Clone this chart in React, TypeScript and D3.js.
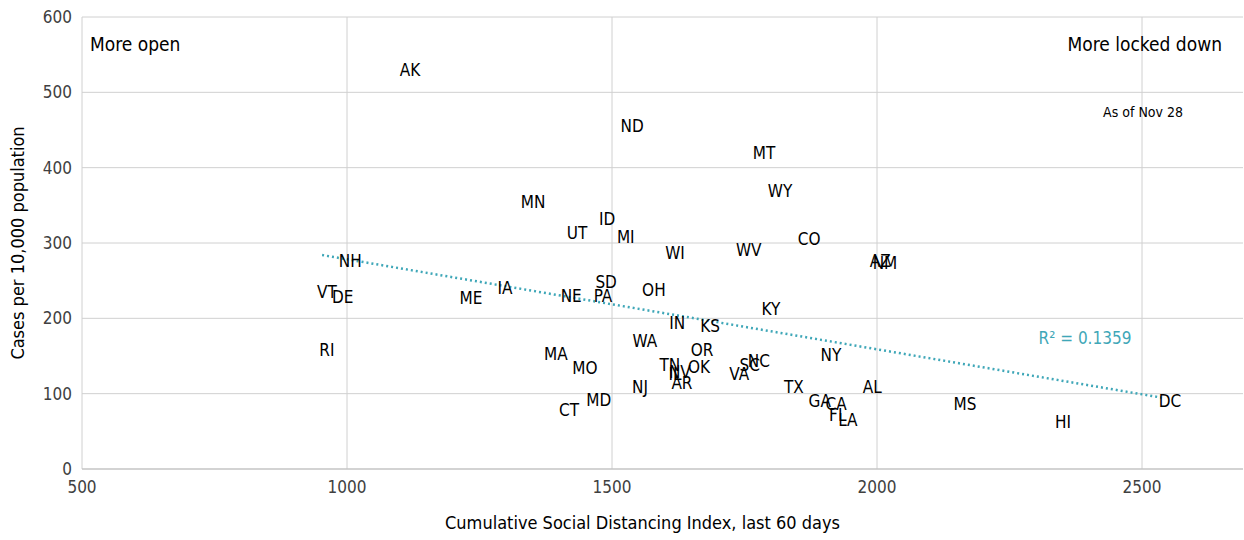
import { scaleLinear } from "d3";

const states = ["AK","ND","MT","WY","MN","ID","UT","MI","CO","WI","WV","AZ","NM","NH","VT","DE","IA","ME","SD","NE","PA","OH","KY","IN","KS","RI","MA","WA","OR","MO","NY","TN","IL","NV","OK","SC","NC","VA","AR","NJ","TX","AL","MD","CT","GA","CA","FL","LA","MS","HI","DC"];
const distancing = [1119,1538,1787,1817,1351,1491,1434,1526,1872,1619,1758,2006,2015,1006,962,992,1298,1234,1489,1423,1483,1579,1800,1623,1685,962,1394,1562,1670,1449,1913,1609,1619,1628,1664,1760,1777,1740,1632,1553,1843,1991,1475,1419,1892,1923,1926,1945,2166,2351,2553];
const cases = [530,455,419,369,354,332,313,308,305,287,291,276,273,276,235,228,240,227,248,230,230,238,212,194,190,158,153,170,158,134,151,138,126,129,135,138,143,126,114,109,109,109,92,78,90,86,72,65,86,62,90];
const trend = [[953, 284], [2543, 94]];
const xTicks = [500, 1000, 1500, 2000, 2500];
const yTicks = [0, 100, 200, 300, 400, 500, 600];

const W = 1244, H = 540;
const L = 82, R = 1243, T = 17, B = 469;
const font = "'DejaVu Sans Condensed', 'DejaVu Sans', sans-serif";

export default function App() {
  const x = scaleLinear().domain([500, 500 + (R - L) / 0.53]).range([L, R]);
  const y = scaleLinear().domain([0, 600]).range([B, T]);
  return (
    <svg width={W} height={H} style={{ position: "absolute", left: 0, top: 0, fontFamily: font, fontStretch: "condensed" }}>
      <rect width={W} height={H} fill="#fff" />
      {xTicks.map((t) => (
        <line key={"gx" + t} x1={x(t)} x2={x(t)} y1={T} y2={B} stroke="#d0d0d0" />
      ))}
      {yTicks.map((t) => (
        <line key={"gy" + t} x1={L} x2={R} y1={y(t)} y2={y(t)} stroke="#d0d0d0" />
      ))}
      <line x1={L} x2={R} y1={B} y2={B} stroke="#bfbfbf" />
      {xTicks.map((t) => (
        <text key={"tx" + t} x={x(t)} y={B + 24} textAnchor="middle" fontSize={17} fill="#404040">{t}</text>
      ))}
      {yTicks.map((t) => (
        <text key={"ty" + t} x={L - 10} y={y(t) + 6} textAnchor="end" fontSize={17} fill="#404040">{t}</text>
      ))}
      <text x={(L + R) / 2 - 20} y={529} textAnchor="middle" fontSize={18} fill="#000">Cumulative Social Distancing Index, last 60 days</text>
      <text transform={`translate(24,${(T + B) / 2}) rotate(-90)`} textAnchor="middle" fontSize={18} fill="#000">Cases per 10,000 population</text>
      <line x1={x(trend[0][0])} y1={y(trend[0][1])} x2={x(trend[1][0])} y2={y(trend[1][1])} stroke="#3fa7b8" strokeWidth={2.5} strokeDasharray="2 3" />
      <text x={1085} y={344} textAnchor="middle" fontSize={17} fill="#3fa7b8">R² = 0.1359</text>
      {states.map((s, i) => (
        <text key={s} x={x(distancing[i])} y={y(cases[i]) + 6} textAnchor="middle" fontSize={17} fill="#000">{s}</text>
      ))}
      <text x={90} y={51} fontSize={19} fill="#000">More open</text>
      <text x={1222} y={51} textAnchor="end" fontSize={19} fill="#000">More locked down</text>
      <text x={1183} y={117} textAnchor="end" fontSize={14} fill="#000">As of Nov 28</text>
    </svg>
  );
}
